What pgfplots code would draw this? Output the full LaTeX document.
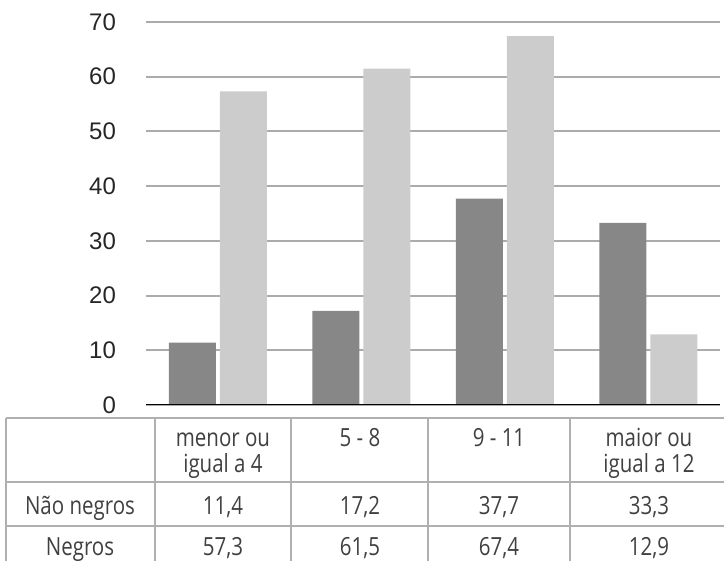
\documentclass[border=0pt]{standalone}
\usepackage{fontspec}
\setmainfont{Liberation Sans}
\newfontfamily\tabfont[FakeStretch=0.82]{Open Sans}
\usepackage{pgfplots}
\pgfplotsset{compat=1.18}
\definecolor{darkbar}{HTML}{878787}
\definecolor{lightbar}{HTML}{CBCCCB}
\definecolor{gridc}{HTML}{ABABAB}
\definecolor{tabline}{HTML}{B0B0B0}
\definecolor{txt}{HTML}{404040}

\begin{document}
\begin{tikzpicture}
\useasboundingbox (0,0) rectangle (362pt,280.5pt);
\begin{axis}[
  at={(73pt,78pt)}, anchor=south west,
  scale only axis, width=287pt, height=191.5pt,
  ybar=2pt, bar width=23.5pt,
  xmin=-0.5, xmax=3.5, ymin=0, ymax=70,
  xtick=\empty, ytick={0,10,...,70},
  axis line style={draw=none},
  major tick length=0pt,
  ymajorgrids, grid style={gridc, line width=1pt},
  /pgf/number format/assume math mode=true,
  yticklabel style={font=\fontsize{12}{14}\selectfont, text=black!85, anchor=east, xshift=-11.5pt},
]
\addplot[fill=darkbar, draw=none] coordinates {(0,11.4) (1,17.2) (2,37.7) (3,33.3)};
\addplot[fill=lightbar, draw=none] coordinates {(0,57.3) (1,61.5) (2,67.4) (3,12.9)};
\draw[black, line width=1pt] (rel axis cs:0,0) -- (rel axis cs:1,0);
\end{axis}

% data table below the chart (pixel units of the reference)
\begin{scope}[x=0.5pt, y=-0.5pt, yshift=280.5pt]
  \draw[tabline, line width=0.75pt] (6,418) -- (724,418) (6,482) -- (724,482) (6,526) -- (724,526);
  \foreach \xx in {6,155,291,428,570} \draw[tabline, line width=0.75pt] (\xx,418) -- (\xx,561);
  \begin{scope}[every node/.style={anchor=base, inner sep=0pt, text=txt, font=\tabfont\fontsize{12.5}{13}\selectfont}]
    \node at (223,447) {menor ou};
    \node at (223,473) {igual a 4};
    \node at (360,447) {5 - 8};
    \node at (499,447) {9 - 11};
    \node at (649,447) {maior ou};
    \node at (649,473) {igual a 12};
    \node at (80,515) {Não negros};
    \node at (223,515) {11,4};
    \node at (360,515) {17,2};
    \node at (499,515) {37,7};
    \node at (649,515) {33,3};
    \node at (80,556) {Negros};
    \node at (223,556) {57,3};
    \node at (360,556) {61,5};
    \node at (499,556) {67,4};
    \node at (649,556) {12,9};
  \end{scope}
\end{scope}
\end{tikzpicture}
\end{document}
